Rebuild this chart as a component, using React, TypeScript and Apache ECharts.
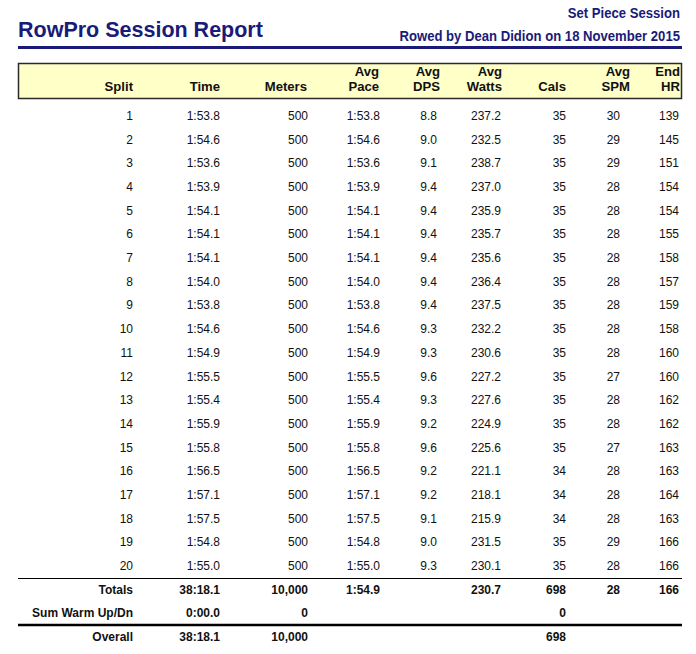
import React, { useEffect, useRef } from "react";
import * as echarts from "echarts";

// ---- data ----
const splits = ["1", "2", "3", "4", "5", "6", "7", "8", "9", "10", "11", "12", "13", "14", "15", "16", "17", "18", "19", "20"];
const times = ["1:53.8", "1:54.6", "1:53.6", "1:53.9", "1:54.1", "1:54.1", "1:54.1", "1:54.0", "1:53.8", "1:54.6", "1:54.9", "1:55.5", "1:55.4", "1:55.9", "1:55.8", "1:56.5", "1:57.1", "1:57.5", "1:54.8", "1:55.0"];
const meters = [500, 500, 500, 500, 500, 500, 500, 500, 500, 500, 500, 500, 500, 500, 500, 500, 500, 500, 500, 500];
const paces = ["1:53.8", "1:54.6", "1:53.6", "1:53.9", "1:54.1", "1:54.1", "1:54.1", "1:54.0", "1:53.8", "1:54.6", "1:54.9", "1:55.5", "1:55.4", "1:55.9", "1:55.8", "1:56.5", "1:57.1", "1:57.5", "1:54.8", "1:55.0"];
const dps = [8.8, 9.0, 9.1, 9.4, 9.4, 9.4, 9.4, 9.4, 9.4, 9.3, 9.3, 9.6, 9.3, 9.2, 9.6, 9.2, 9.2, 9.1, 9.0, 9.3];
const watts = [237.2, 232.5, 238.7, 237.0, 235.9, 235.7, 235.6, 236.4, 237.5, 232.2, 230.6, 227.2, 227.6, 224.9, 225.6, 221.1, 218.1, 215.9, 231.5, 230.1];
const cals = [35, 35, 35, 35, 35, 35, 35, 35, 35, 35, 35, 35, 35, 35, 35, 34, 34, 34, 35, 35];
const spm = [30, 29, 29, 28, 28, 28, 28, 28, 28, 28, 28, 27, 28, 28, 27, 28, 28, 28, 29, 28];
const endHr = [139, 145, 151, 154, 154, 155, 158, 157, 159, 158, 160, 160, 162, 162, 163, 163, 164, 163, 166, 166];

const totalsRow = ["Totals", "38:18.1", "10,000", "1:54.9", "", "230.7", "698", "28", "166"];
const warmRow = ["Sum Warm Up/Dn", "0:00.0", "0", "", "", "", "0", "", ""];
const overallRow = ["Overall", "38:18.1", "10,000", "", "", "", "698", "", ""];

const headerTop = ["", "", "", "Avg", "Avg", "Avg", "", "Avg", "End"];
const headerBottom = ["Split", "Time", "Meters", "Pace", "DPS", "Watts", "Cals", "SPM", "HR"];

const title = "RowPro Session Report";
const subtitle1 = "Set Piece Session";
const subtitle2 = "Rowed by Dean Didion on 18 November 2015";

// ---- layout ----
const COL_RIGHT = [133, 220, 308, 380, 437, 501, 566, 620, 679];
const HEAD_RIGHT = [133, 220, 307, 379, 440, 502, 566, 630, 680];
const W = 696;
const H = 654;
const NAVY = "#1a1a78";
const BODY = "'Liberation Sans', Arial, sans-serif";

function narrowText(text: string, x: number, y: number, size: number, fill: string, sx: number, sy: number) {
  return {
    type: "text",
    x,
    y,
    scaleX: sx,
    scaleY: sy,
    style: {
      text,
      x: 0,
      y: 0,
      align: "right",
      verticalAlign: "middle",
      font: `bold ${size}px ${BODY}`,
      fill,
    },
  };
}

export default function App() {
  const ref = useRef<HTMLDivElement>(null);

  useEffect(() => {
    document.body.style.margin = "0";
    if (!ref.current) return;
    const chart = echarts.init(ref.current, null, { renderer: "svg" });

    const rows: string[][] = splits.map((s, i) => [
      s,
      times[i],
      String(meters[i]),
      paces[i],
      dps[i].toFixed(1),
      watts[i].toFixed(1),
      String(cals[i]),
      String(spm[i]),
      String(endHr[i]),
    ]);
    rows.push(totalsRow, warmRow, overallRow);
    const rowKeys = rows.map((r) => r[0]);
    const nData = splits.length;

    const graphics: any[] = [
      {
        type: "text",
        x: 18,
        y: 30,
        style: {
          text: title,
          x: 0,
          y: 0,
          align: "left",
          verticalAlign: "middle",
          font: `bold 21.5px ${BODY}`,
          fill: NAVY,
        },
      },
      narrowText(subtitle1, 680, 13, 16, NAVY, 0.82, 0.9),
      narrowText(subtitle2, 680, 36, 16, NAVY, 0.82, 0.9),
      {
        type: "rect",
        shape: { x: 18, y: 46, width: 664, height: 3 },
        style: { fill: NAVY },
      },
      {
        type: "rect",
        shape: { x: 18.5, y: 63.5, width: 663, height: 35 },
        style: { fill: "#ffffc8", stroke: "#2a2a2a", lineWidth: 1.5 },
      },
    ];
    headerBottom.forEach((t, c) => {
      graphics.push(narrowText(t, HEAD_RIGHT[c], 86, 16, "#111", 0.82, 0.84));
      if (headerTop[c]) graphics.push(narrowText(headerTop[c], HEAD_RIGHT[c], 71, 16, "#111", 0.82, 0.84));
    });

    chart.setOption({
      animation: false,
      grid: { left: 0, right: 0, top: 104.2, bottom: 5.2 },
      xAxis: { type: "value", min: 0, max: W, show: false },
      yAxis: { type: "category", data: rowKeys, inverse: true, show: false },
      graphic: graphics,
      series: [
        {
          type: "custom",
          encode: { x: 0, y: 1 },
          data: rows.map((_, i) => [0, i]),
          renderItem: (params: any, api: any) => {
            const i = params.dataIndex;
            const bold = i >= nData;
            const band = api.size([0, 1])[1];
            const children: any[] = rows[i].map((txt, c) => {
              const p = api.coord([COL_RIGHT[c], i]);
              return {
                type: "text",
                style: {
                  text: txt,
                  x: p[0],
                  y: p[1],
                  align: "right",
                  verticalAlign: "middle",
                  font: `${bold ? "bold " : ""}12px ${BODY}`,
                  fill: "#111",
                },
              };
            });
            const p0 = api.coord([18, i]);
            const p1 = api.coord([682, i]);
            if (i === nData - 1) {
              const y = Math.round(p0[1] + band / 2) + 0.5;
              children.push({
                type: "line",
                shape: { x1: p0[0], y1: y, x2: p1[0], y2: y },
                style: { stroke: "#000", lineWidth: 1 },
              });
            }
            if (i === rows.length - 2) {
              const y = Math.round(p0[1] + band / 2);
              children.push({
                type: "line",
                shape: { x1: p0[0], y1: y, x2: p1[0], y2: y },
                style: { stroke: "#000", lineWidth: 2.5 },
              });
            }
            return { type: "group", children };
          },
        },
      ],
    });

    return () => chart.dispose();
  }, []);

  return <div ref={ref} style={{ width: W, height: H }} />;
}
